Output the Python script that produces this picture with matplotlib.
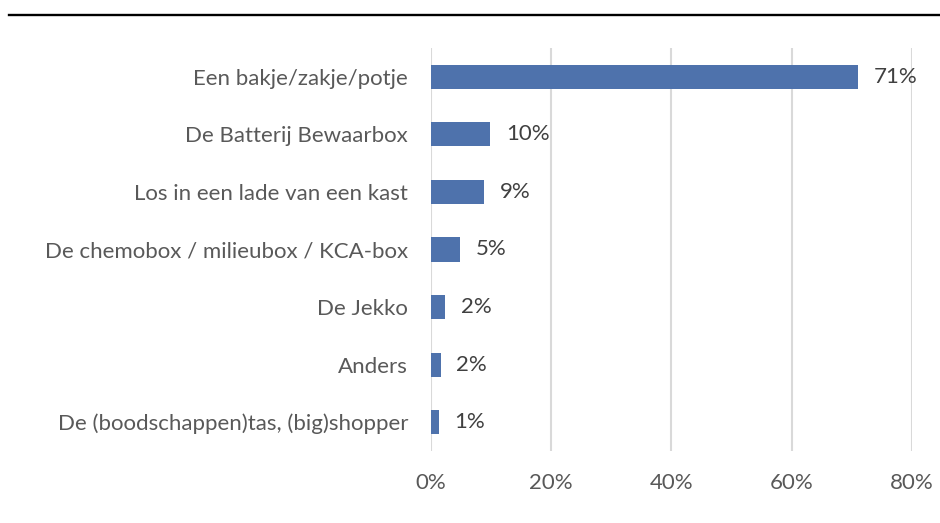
import matplotlib.pyplot as plt
from matplotlib.lines import Line2D
from matplotlib.ticker import FuncFormatter

plt.rcParams['font.family'] = ['Lato', 'DejaVu Sans']

categories = ['Een bakje/zakje/potje',
              'De Batterij Bewaarbox',
              'Los in een lade van een kast',
              'De chemobox / milieubox / KCA-box',
              'De Jekko',
              'Anders',
              'De (boodschappen)tas, (big)shopper']
values = [71.0, 9.9, 8.8, 4.9, 2.4, 1.6, 1.3]
labels = ['71%', '10%', '9%', '5%', '2%', '2%', '1%']
xticks = [0, 20, 40, 60, 80]

fig = plt.figure(figsize=(9.4, 5.23), dpi=100)
ax = fig.add_axes([0.4585, 0.1377, 0.5115, 0.7705])

pos = list(range(len(categories)))
ax.barh(pos, values, height=0.42, color='#4E72AC', zorder=3)
ax.set_ylim(len(categories) - 0.5, -0.5)
ax.set_xlim(0, 80)
ax.set_yticks(pos)
ax.set_yticklabels(categories)
ax.set_xticks(xticks)
ax.xaxis.set_major_formatter(FuncFormatter(lambda v, p: '%d%%' % v))

for y, v, t in zip(pos, values, labels):
    ax.text(v + 2.6, y, t, va='center', ha='left', fontsize=16, color='#404040')

ax.grid(axis='x', color='#D9D9D9', linewidth=1.5, zorder=0)
for s in ax.spines.values():
    s.set_visible(False)
ax.tick_params(axis='both', length=0, labelsize=16, labelcolor='#595959')
ax.tick_params(axis='x', pad=16)
ax.tick_params(axis='y', pad=16.5)

# black rule at the top of the page
fig.add_artist(Line2D([9 / 940, 1.0], [1 - 14.7 / 523] * 2, color='black', linewidth=1.7,
                      transform=fig.transFigure))

fig.savefig('out.png', dpi=100)
